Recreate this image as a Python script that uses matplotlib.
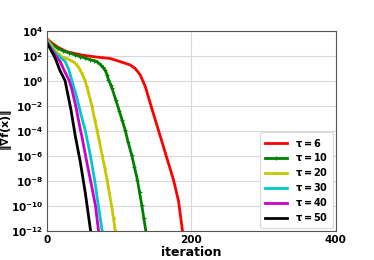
import matplotlib
matplotlib.use("Agg")
import matplotlib.pyplot as plt
import numpy as np

# data: iteration, log10(||grad f||)
red_it = [0, 5, 15, 27, 50, 70, 87, 101, 115, 122, 129, 136, 145, 154, 165, 175, 182, 188]
red_lg = [3.36, 3.1, 2.7, 2.34, 2.05, 1.9, 1.8, 1.55, 1.28, 1.0, 0.48, -0.45, -2.2, -3.9, -6.0, -7.9, -9.6, -12.2]

green_it = [0, 5, 10, 15, 22, 30, 38, 46, 53, 60, 65, 69, 74, 77, 80, 83, 85, 88, 90, 95, 100, 104, 108, 112, 117, 121, 125, 128, 131, 134, 137]
green_lg = [3.3, 3.0, 2.8, 2.6, 2.42, 2.25, 2.1, 1.95, 1.82, 1.7, 1.62, 1.55, 1.3, 1.1, 0.9, 0.5, 0.1, -0.3, -0.6, -1.5, -2.4, -3.15, -3.9, -4.85, -5.9, -6.9, -7.9, -8.9, -9.9, -11.0, -12.1]

yellow_it = [0, 3, 5, 8, 12, 16, 20, 25, 30, 34, 37, 40, 43, 46, 48, 50, 52, 55, 57, 60, 62, 66, 69, 72, 76, 80, 83, 86, 89, 92, 94, 96]
yellow_lg = [3.3, 3.05, 2.9, 2.65, 2.4, 2.15, 1.95, 1.85, 1.72, 1.6, 1.5, 1.35, 1.15, 0.85, 0.6, 0.35, 0.1, -0.45, -0.9, -1.55, -2.0, -3.1, -3.9, -4.75, -5.9, -7.0, -7.9, -8.9, -9.9, -11.0, -11.9, -12.5]

cyan_it = [0, 5, 12, 20, 25, 30, 34, 41, 47, 53, 60, 66, 71, 76, 78]
cyan_lg = [3.2, 2.7, 2.2, 1.8, 1.55, 0.9, 0.1, -1.3, -2.7, -4.0, -6.0, -8.0, -10.0, -11.9, -12.5]

magenta_it = [0, 5, 12, 18, 24, 30, 34, 40, 46, 48, 55, 62, 67, 71, 73]
magenta_lg = [3.1, 2.6, 2.0, 1.55, 0.8, 0.1, -0.6, -2.1, -3.9, -4.4, -6.5, -8.5, -10.0, -11.9, -12.5]

black_it = [0, 5, 10, 13, 18, 22, 25, 27, 33, 39, 46, 53, 60, 62]
black_lg = [3.0, 2.5, 1.95, 1.55, 0.8, 0.35, 0.0, -0.6, -2.3, -4.4, -6.5, -9.0, -11.9, -12.5]

labels = [r"$\mathbf{\tau = 6}$", r"$\mathbf{\tau = 10}$", r"$\mathbf{\tau = 20}$",
          r"$\mathbf{\tau = 30}$", r"$\mathbf{\tau = 40}$", r"$\mathbf{\tau = 50}$"]
colors = ["red", "green", "#c8c800", "#00c8c8", "#cc00cc", "black"]
markers = [None, "+", ".", None, None, None]

series = [(red_it, red_lg), (green_it, green_lg), (yellow_it, yellow_lg),
          (cyan_it, cyan_lg), (magenta_it, magenta_lg), (black_it, black_lg)]

fig = plt.figure(figsize=(3.74, 2.60), dpi=100)
ax = fig.add_axes([0.126, 0.112, 0.772, 0.769])

for (it, lg), lab, c, m in zip(series, labels, colors, markers):
    ax.plot(it, 10.0 ** np.array(lg), color=c, lw=2, marker=m, markersize=2.5,
            markeredgewidth=0.8, label=lab)

ax.set_yscale("log")
ax.set_xlim(0, 400)
ax.set_ylim(1e-12, 1e4)
ax.set_xticks([0, 200, 400])
ax.set_yticks([10.0 ** k for k in range(-12, 5, 2)])
ax.minorticks_off()
ax.grid(True, color="#d8d8d8", lw=0.8)
for s in ax.spines.values():
    s.set_color("#555555")
ax.tick_params(length=0, labelsize=7.5, pad=3)
for t in ax.get_xticklabels() + ax.get_yticklabels():
    t.set_fontweight("bold")
ax.set_xlabel("iteration", fontsize=9, fontweight="bold", labelpad=1)
fig.text(0.018, 0.5, r"$\mathbf{\|\nabla f(x)\|}$", fontsize=8, rotation=90,
         ha="center", va="center")

leg = ax.legend(loc="lower right", bbox_to_anchor=(1.0, 0.0), fontsize=7,
                handlelength=2.3, borderpad=0.5, borderaxespad=0.3,
                labelspacing=0.3, framealpha=1, edgecolor="#dddddd")
fig.savefig("out.png", dpi=100)
